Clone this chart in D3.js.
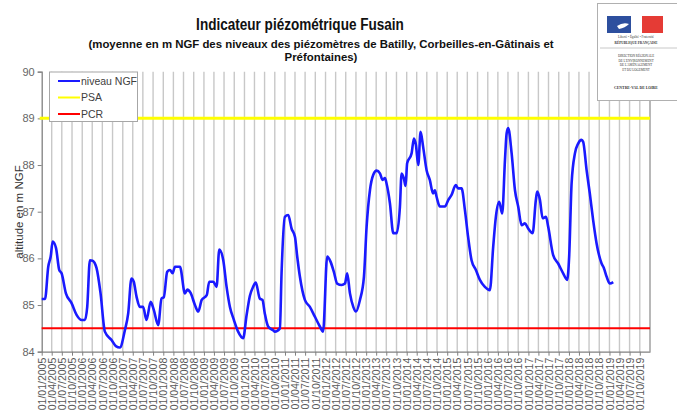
<!DOCTYPE html>
<html><head><meta charset="utf-8">
<script src="https://cdn.jsdelivr.net/npm/d3@7"></script>
<style>body{margin:0;background:#fff;} svg{display:block;font-family:Arial,"Liberation Sans",sans-serif;}</style>
</head><body><svg id="c" width="677" height="416"></svg>
<script>
// ---- data ----
const dates = ["2005-01-01","2005-01-31","2005-03-01","2005-03-23","2005-04-10","2005-05-10","2005-06-08","2005-06-29","2005-08-07","2005-09-27","2005-11-11","2005-12-27",
"2006-01-25","2006-02-15","2006-03-11","2006-04-04","2006-05-10","2006-06-15","2006-07-24","2006-09-22","2006-10-31","2006-12-06",
"2007-01-20","2007-02-19","2007-03-20","2007-04-10","2007-05-05","2007-06-04","2007-07-03","2007-08-03","2007-09-09","2007-10-08","2007-11-16","2007-12-16",
"2008-01-06","2008-02-05","2008-03-01","2008-03-25","2008-04-15","2008-05-30","2008-07-14","2008-08-04","2008-09-03","2008-10-12","2008-11-11","2008-12-12",
"2009-01-26","2009-02-18","2009-03-26","2009-04-25","2009-05-19","2009-06-24","2009-07-24","2009-08-23","2009-09-28","2009-11-05","2009-12-20",
"2010-01-20","2010-02-19","2010-03-20","2010-04-13","2010-05-19","2010-06-12","2010-07-03","2010-08-02","2010-09-16","2010-10-02","2010-11-16","2010-12-01","2010-12-31",
"2011-01-30","2011-03-01","2011-04-01","2011-04-21","2011-05-15","2011-06-29","2011-08-13","2011-09-27","2011-11-11","2011-12-10",
"2012-01-16","2012-02-15","2012-03-16","2012-04-15","2012-05-25","2012-06-24","2012-07-14","2012-08-08","2012-09-07","2012-10-01","2012-11-06","2012-12-12",
"2013-01-05","2013-02-04","2013-03-06","2013-04-05","2013-05-05","2013-05-29","2013-06-19","2013-07-04","2013-08-03","2013-09-02","2013-10-02","2013-11-01","2013-11-16","2013-12-07","2013-12-22",
"2014-01-05","2014-02-14","2014-03-07","2014-03-25","2014-04-15","2014-05-06","2014-05-29","2014-06-29","2014-07-28","2014-08-27","2014-09-12","2014-09-27","2014-10-27","2014-12-11",
"2015-01-10","2015-02-09","2015-03-19","2015-04-09","2015-05-10","2015-06-09","2015-07-08","2015-08-08","2015-09-16","2015-10-22","2015-12-06",
"2016-01-20","2016-02-19","2016-03-14","2016-04-13","2016-05-10","2016-06-04","2016-06-19","2016-07-03","2016-08-03","2016-09-02","2016-10-01","2016-11-01","2016-12-01","2016-12-30",
"2017-02-08","2017-03-09","2017-03-21","2017-04-15","2017-05-09","2017-06-08","2017-06-28","2017-08-12","2017-09-26","2017-11-10","2017-12-16",
"2018-01-03","2018-01-25","2018-02-24","2018-03-25","2018-04-24","2018-05-09","2018-06-09","2018-07-08","2018-08-07","2018-09-07","2018-10-22","2018-11-12","2018-12-06",
"2019-01-05","2019-02-04"];
const levels = [85.13,85.13,85.82,86.04,86.36,86.22,85.75,85.68,85.25,85.04,84.79,84.68,
84.68,84.96,85.96,85.95,85.79,85.25,84.43,84.25,84.12,84.09,
84.46,84.82,85.57,85.50,85.18,84.96,84.96,84.68,85.07,84.89,84.57,85.14,
85.17,85.71,85.75,85.68,85.82,85.82,85.25,85.33,85.26,85.00,84.86,85.11,
85.21,85.50,85.50,85.39,86.19,85.96,85.39,84.96,84.68,84.43,84.29,
84.78,85.20,85.39,85.48,85.14,85.11,84.82,84.54,84.46,84.43,84.50,85.68,86.89,
86.93,86.64,86.46,86.04,85.61,85.11,84.96,84.75,84.54,84.43,
86.04,85.93,85.71,85.46,85.43,85.46,85.68,85.25,84.96,84.86,85.11,85.61,
86.68,87.46,87.79,87.88,87.82,87.68,87.72,87.60,87.18,86.54,86.54,87.11,87.82,87.71,87.55,
88.04,88.25,88.57,88.43,88.00,88.71,88.39,87.89,87.68,87.39,87.46,87.32,87.11,87.11,
87.25,87.36,87.57,87.50,87.50,87.04,86.46,85.96,85.75,85.54,85.39,
85.32,86.25,86.89,87.21,86.96,88.11,88.68,88.79,88.25,87.46,87.11,86.71,86.75,86.64,
86.54,87.25,87.43,87.25,86.86,86.89,86.68,86.07,85.89,85.68,85.54,
86.04,87.61,88.25,88.46,88.54,88.50,87.89,87.39,86.82,86.32,85.89,85.79,85.61,
85.46,85.49];
const psaLevel = 89;
const pcrLevel = 84.5;
const yTicks = [84, 85, 86, 87, 88, 89, 90];
const xStart = "2005-01-01", xEnd = "2020-01-01";
const seriesNames = ["niveau NGF", "PSA", "PCR"];
const seriesColors = ["#1a1aff", "#ffff00", "#ff0000"];
const titleText = "Indicateur piézométrique Fusain";
const subtitleLines = ["(moyenne en m NGF des niveaux des piézomètres de Batilly, Corbeilles-en-Gâtinais et", "Préfontaines)"];
const yLabel = "altitude en m NGF";

// ---- chart ----
const parse = d3.timeParse("%Y-%m-%d");
const fmt = d3.timeFormat("%d/%m/%Y");
const svg = d3.select("#c");
const L = 41.7, R = 650, T = 71.7, B = 351.7;
const x = d3.scaleTime().domain([parse(xStart), parse(xEnd)]).range([L, R]);
const y = d3.scaleLinear().domain([84, 90]).range([B, T]);
const quarters = d3.timeMonth.every(3).range(parse(xStart), d3.timeDay.offset(parse(xEnd), 1));
const data = dates.map((d, i) => ({date: parse(d), v: levels[i]}));

// gridlines
svg.append("g").selectAll("line").data(quarters.slice(1)).join("line")
  .attr("x1", d => x(d)).attr("x2", d => x(d)).attr("y1", T).attr("y2", B)
  .attr("stroke", (d, i, a) => i === a.length - 1 ? "#9a9a9a" : "#c8c8c8").attr("stroke-width", 1.4);

// y axis
const ya = svg.append("g").attr("transform", `translate(${L},0)`)
  .call(d3.axisLeft(y).tickValues(yTicks).tickFormat(d3.format("d")).tickSize(4).tickPadding(3));
ya.select(".domain").attr("stroke", "#808080").attr("stroke-width", 1.3);
ya.selectAll(".tick line").attr("stroke", "#808080");
ya.selectAll("text").attr("fill", "#666").style("font-size", "11px");

// x axis
const xa = svg.append("g").attr("transform", `translate(0,${B})`)
  .call(d3.axisBottom(x).tickValues(quarters.slice(0, -1)).tickFormat(fmt).tickSize(4).tickSizeOuter(0));
xa.select(".domain").attr("stroke", "#808080").attr("stroke-width", 1.3);
xa.selectAll(".tick line").attr("stroke", "#808080");
xa.selectAll("text").attr("fill", "#595959").style("font-size", "10.5px")
  .attr("transform", "rotate(-90)").attr("x", -6).attr("y", 0).attr("dy", "0.35em").style("text-anchor", "end");

// threshold lines
svg.append("line").attr("x1", L - 2).attr("x2", R).attr("y1", y(psaLevel)).attr("y2", y(psaLevel))
  .attr("stroke", seriesColors[1]).attr("stroke-width", 3);
svg.append("line").attr("x1", L).attr("x2", R).attr("y1", y(pcrLevel)).attr("y2", y(pcrLevel))
  .attr("stroke", seriesColors[2]).attr("stroke-width", 2);

// series
svg.append("path").datum(data)
  .attr("d", d3.line().x(d => x(d.date)).y(d => y(d.v)).curve(d3.curveMonotoneX))
  .attr("fill", "none").attr("stroke", seriesColors[0]).attr("stroke-width", 2.6).attr("stroke-linejoin", "round");

// legend
const lg = svg.append("g");
lg.append("rect").attr("x", 49.5).attr("y", 72).attr("width", 88).attr("height", 49.5)
  .attr("fill", "#fff").attr("stroke", "#a6a6a6").attr("stroke-width", 1);
seriesNames.forEach((n, i) => {
  const yy = 81 + i * 16.5;
  lg.append("line").attr("x1", 58).attr("x2", 80).attr("y1", yy).attr("y2", yy)
    .attr("stroke", seriesColors[i]).attr("stroke-width", 2);
  lg.append("text").attr("x", 81).attr("y", yy).attr("dy", "0.35em").text(n)
    .attr("fill", "#404040").style("font-size", "10.5px");
});

// titles
const tt = svg.append("text").attr("x", 0).attr("y", 0).attr("text-anchor", "middle")
  .style("font-family", "'Liberation Sans Narrow','Arial Narrow',Arial,sans-serif")
  .style("font-size", "17px").style("font-weight", "bold").attr("fill", "#111").text(titleText);
const tw = tt.node().getComputedTextLength();
const sx = tw > 215 ? 208 / tw : 1;
tt.attr("transform", `translate(300,30) scale(${sx},1)`);
subtitleLines.forEach((s, i) => {
  svg.append("text").attr("x", 321).attr("y", 48 + i * 13).attr("text-anchor", "middle")
    .style("font-size", "11.4px").style("font-weight", "bold").attr("fill", "#111").text(s);
});
svg.append("text").attr("transform", "translate(23,212) rotate(-90)").attr("text-anchor", "middle")
  .style("font-size", "11.5px").attr("fill", "#333").text(yLabel);

// logo
const lo = svg.append("g");
lo.append("rect").attr("x", 597.5).attr("y", 3.5).attr("width", 82).attr("height", 97)
  .attr("fill", "#fff").attr("stroke", "#b0b0b0");
lo.append("line").attr("x1", 600).attr("x2", 677).attr("y1", 48).attr("y2", 48).attr("stroke", "#c8c8c8");
lo.append("rect").attr("x", 607).attr("y", 16).attr("width", 24).attr("height", 17).attr("fill", "#2d4f9e");
lo.append("rect").attr("x", 642).attr("y", 16).attr("width", 21).attr("height", 17).attr("fill", "#e53b35");
lo.append("path").attr("d", "M631,16 L636,16 Q633,20 636,24 Q632,28 636,33 L631,33 Z").attr("fill", "#fff");
lo.append("path").attr("d", "M617,26 Q623,22 629,24 Q625,28 619,29 Z").attr("fill", "#fff");
const lt = [["Liberté • Égalité • Fraternité", 38, 3.2, "normal"], ["RÉPUBLIQUE FRANÇAISE", 43.5, 3.4, "bold"],
  ["DIRECTION RÉGIONALE", 57, 3.2, "normal"], ["DE L'ENVIRONNEMENT", 61.5, 3.2, "normal"],
  ["DE L'AMÉNAGEMENT", 66, 3.2, "normal"], ["ET DU LOGEMENT", 70.5, 3.2, "normal"], ["CENTRE-VAL DE LOIRE", 89, 3.8, "bold"]];
lt.forEach(t => lo.append("text").attr("x", 636).attr("y", t[1]).attr("text-anchor", "middle")
  .style("font-family", "'Liberation Serif',serif").style("font-size", t[2] + "px").style("font-weight", t[3])
  .attr("fill", "#333").text(t[0]));
</script></body></html>
